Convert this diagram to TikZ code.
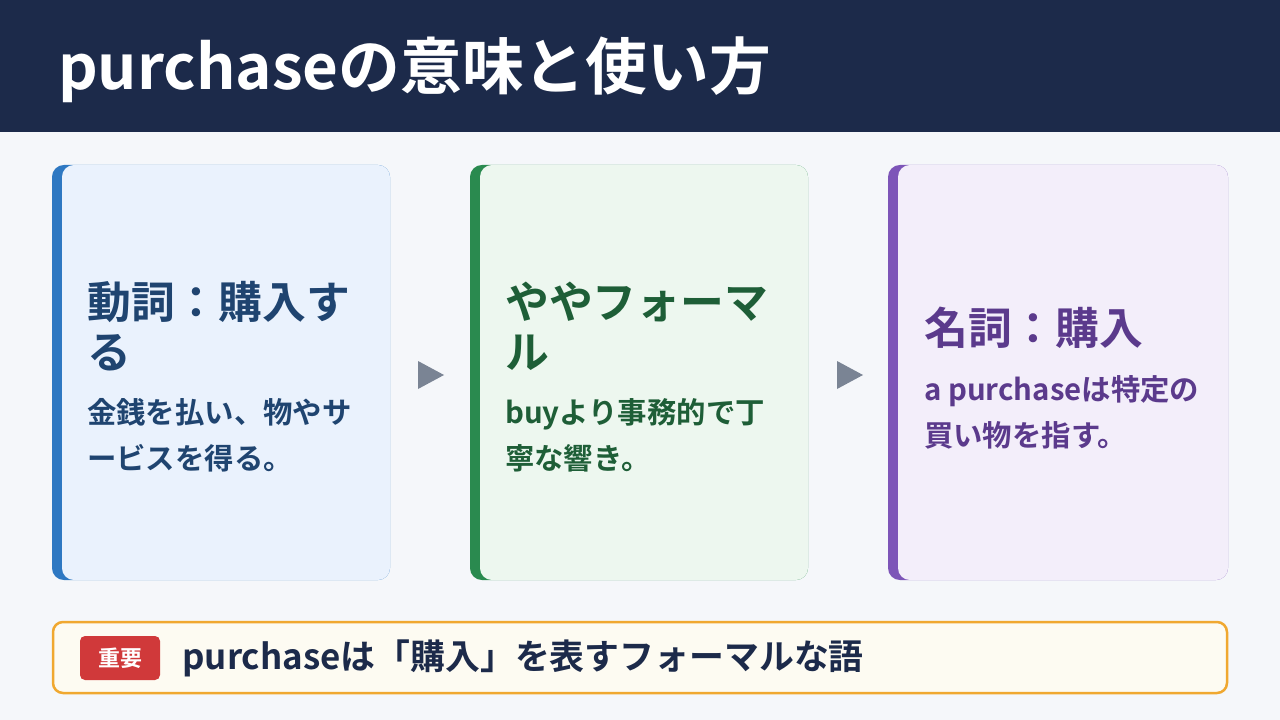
\documentclass[tikz,border=0pt]{standalone}
\usepackage{fontspec}
\setmainfont{Noto Sans CJK JP}[BoldFont={Noto Sans CJK JP Bold}]
\usetikzlibrary{positioning}
\definecolor{navy}{HTML}{1C2A4A}
\definecolor{pagebg}{HTML}{F5F7FA}
\definecolor{bluefill}{HTML}{EAF2FD}
\definecolor{blueacc}{HTML}{2E78C2}
\definecolor{bluetxt}{HTML}{1F4470}
\definecolor{greenfill}{HTML}{EDF7EF}
\definecolor{greenacc}{HTML}{2A8A4F}
\definecolor{greentxt}{HTML}{1E5E37}
\definecolor{purplefill}{HTML}{F3EEFA}
\definecolor{purpleacc}{HTML}{7D55B8}
\definecolor{purpletxt}{HTML}{5B3A8C}
\definecolor{arrowgray}{HTML}{7A8494}
\definecolor{notefill}{HTML}{FDFBF2}
\definecolor{noteline}{HTML}{F0A830}
\definecolor{badge}{HTML}{D0393A}
\tikzset{
  cardtitle/.style={anchor=west,align=left,inner sep=0pt,font=\bfseries\fontsize{44}{50}\selectfont},
  cardbody/.style={anchor=west,align=left,inner sep=0pt,font=\bfseries\fontsize{29.5}{46}\selectfont},
  steparrow/.style={fill=arrowgray,draw=none},
}
\begin{document}
\begin{tikzpicture}[x=1bp,y=-1bp]
  \useasboundingbox (0,0) rectangle (1280,720);
  \fill[pagebg] (0,0) rectangle (1280,720);
  \fill[navy] (0,0) rectangle (1280,132);
  \node (title) [anchor=west,inner sep=0pt,text=white,font=\bfseries\fontsize{62}{70}\selectfont] at (58,70) {purchaseの意味と使い方};
  %% cards
  \fill[blueacc,rounded corners=12] (52,165) rectangle (390,580);
  \fill[bluefill,rounded corners=12] (62,165) rectangle (390,580);
  \fill[greenacc,rounded corners=12] (470,165) rectangle (808,580);
  \fill[greenfill,rounded corners=12] (480,165) rectangle (808,580);
  \fill[purpleacc,rounded corners=12] (888,165) rectangle (1228,580);
  \fill[purplefill,rounded corners=12] (898,165) rectangle (1228,580);
  \node (verb) [cardtitle,text=bluetxt] at (87,326) {動詞：購入す\\る};
  \node (verbtxt) [cardbody,text=bluetxt] at (87,435) {金銭を払い、物やサ\\ービスを得る。};
  \node (formal) [cardtitle,text=greentxt] at (505,326) {ややフォーマ\\ル};
  \node (formaltxt) [cardbody,text=greentxt] at (505,435) {buyより事務的で丁\\寧な響き。};
  \node (noun) [cardtitle,text=purpletxt] at (924,328) {名詞：購入};
  \node (nountxt) [cardbody,text=purpletxt] at (924,412) {a purchaseは特定の\\買い物を指す。};
  \fill[steparrow] (418,361) -- (444,375) -- (418,389) -- cycle;
  \fill[steparrow] (837,361) -- (863,375) -- (837,389) -- cycle;
  %% note
  \draw[noteline,fill=notefill,line width=2.5bp,rounded corners=10] (53,622) rectangle (1227,693);
  \node (badge) [fill=badge,text=white,rounded corners=5,minimum width=80bp,minimum height=44bp,font=\bfseries\fontsize{22}{24}\selectfont] at (120,658) {重要};
  \node (note) [right=22bp of badge,inner sep=0pt,text=navy,font=\bfseries\fontsize{35}{40}\selectfont] {purchaseは「購入」を表すフォーマルな語};
\end{tikzpicture}
\end{document}
